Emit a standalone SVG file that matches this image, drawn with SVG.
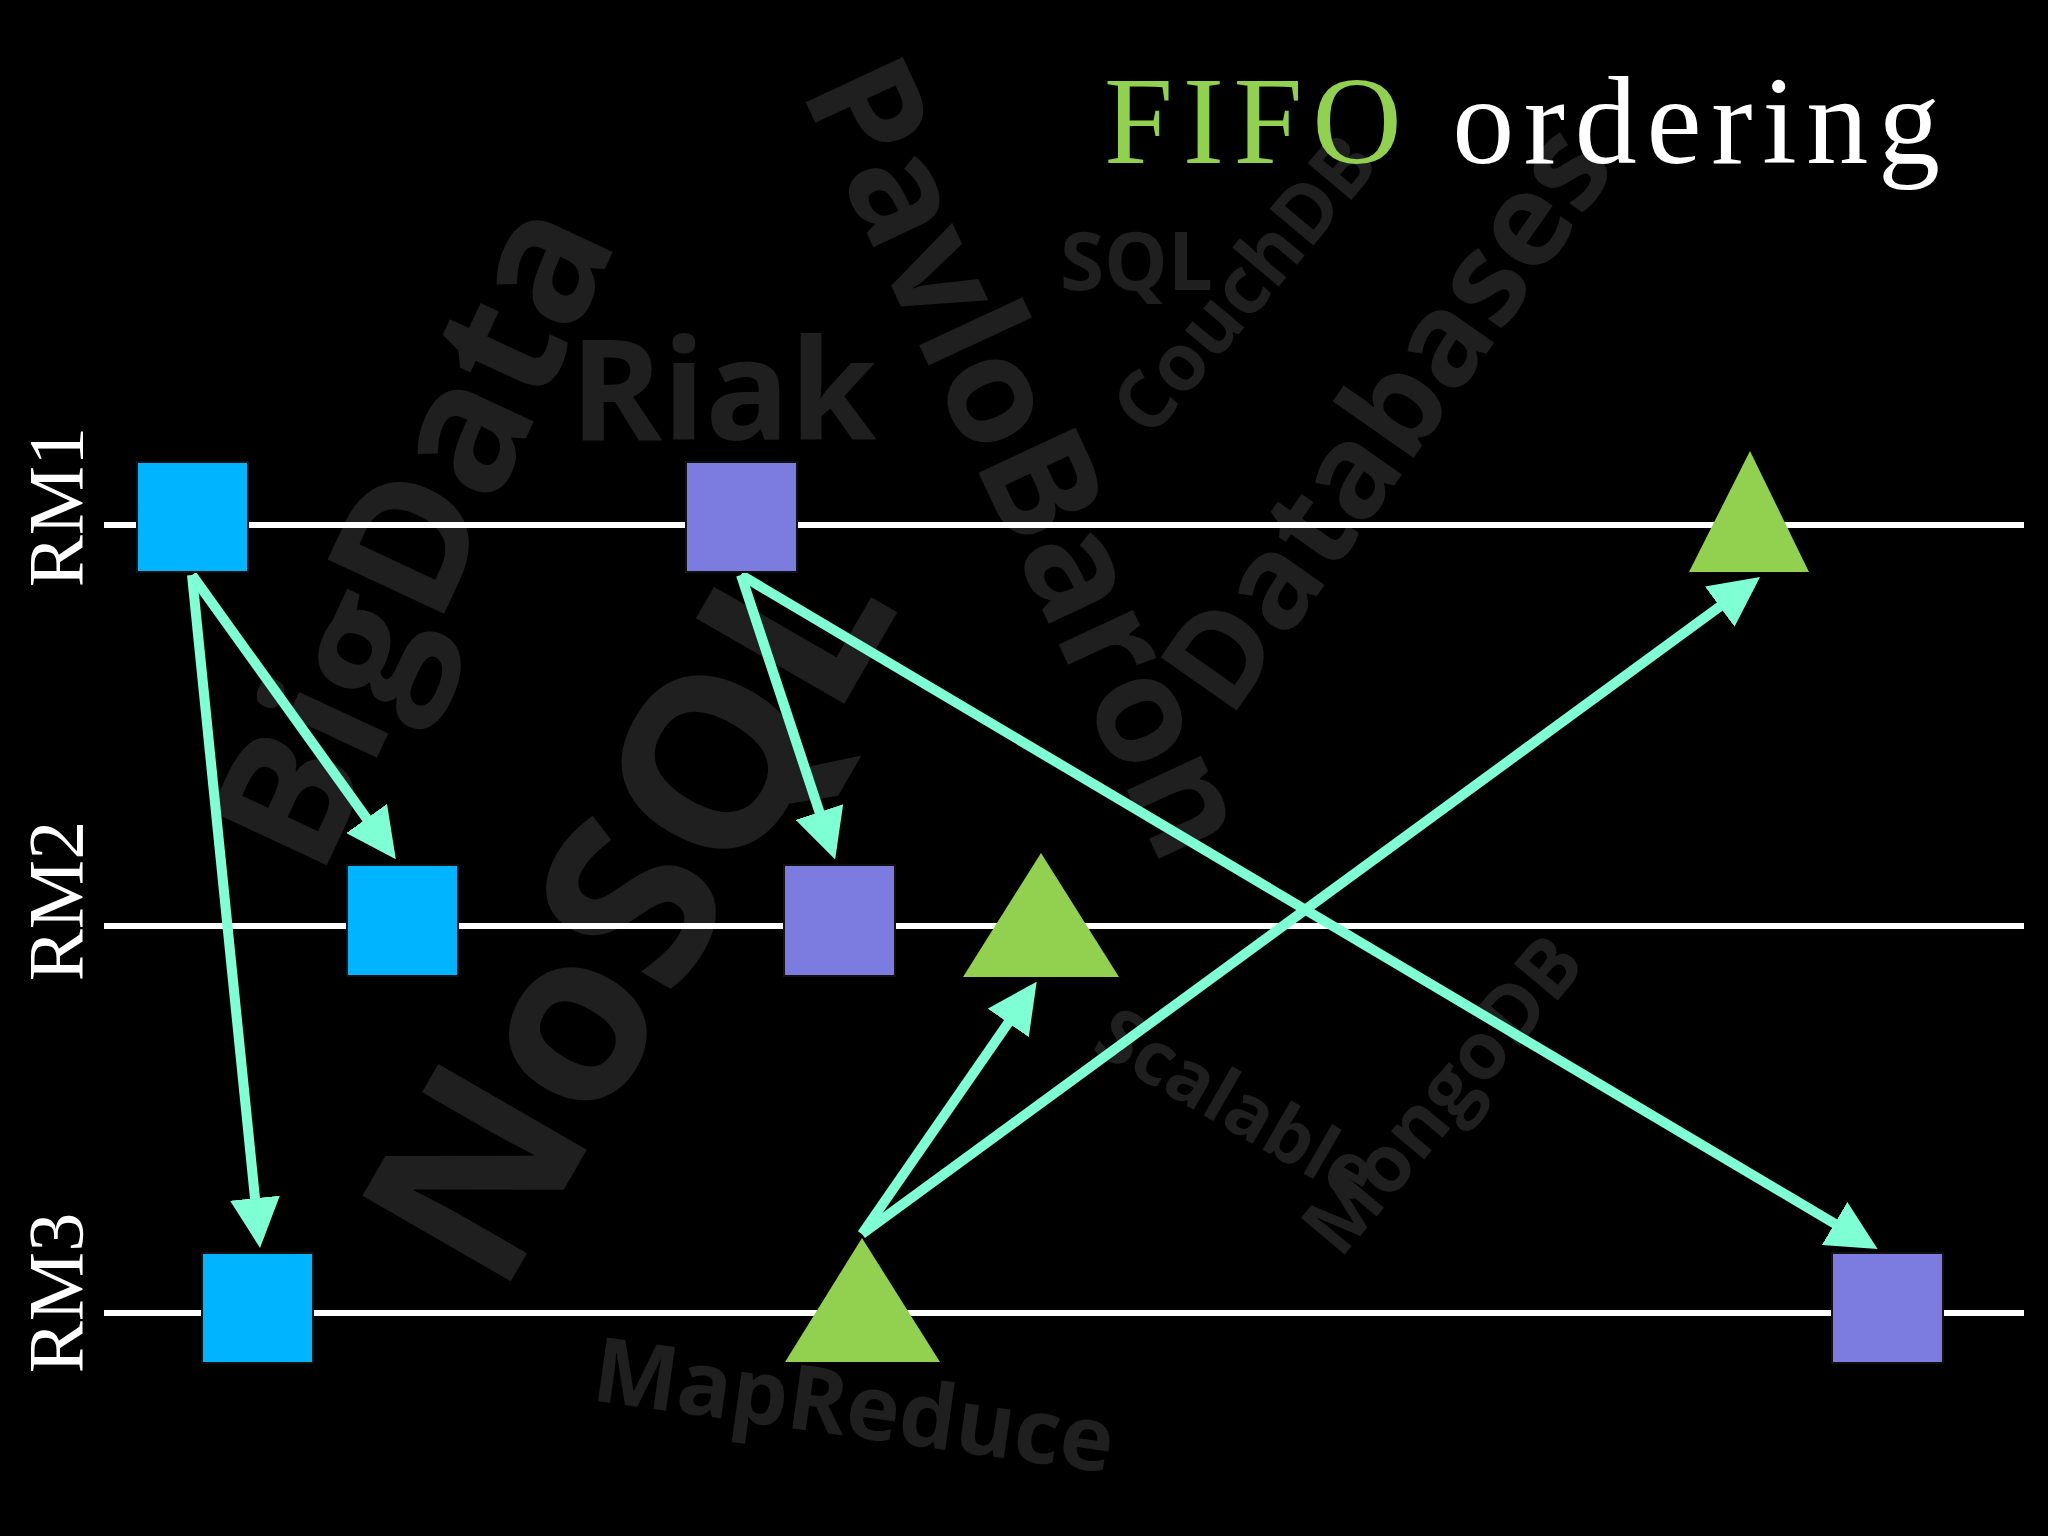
<svg xmlns="http://www.w3.org/2000/svg" width="2048" height="1536" viewBox="0 0 2048 1536">
<defs>
<style>
.bg{font-family:"Open Sans","DejaVu Sans",sans-serif;font-weight:bold;fill:#1f1f1f}
.lbl{font-family:"Liberation Serif","DejaVu Serif",serif;font-size:78px;fill:#fff}
.line{stroke:#fff;stroke-width:6}
.conn{stroke:#7FFFD4;stroke-width:10;fill:none;marker-end:url(#ah)}
.blue{fill:#00B4FF;stroke:#111;stroke-width:2}
.purple{fill:#7B7BE0;stroke:#111;stroke-width:2}
.tri{fill:#92D050}
</style>
<marker id="ah" markerWidth="5" markerHeight="5" refX="4" refY="2.5" orient="auto" markerUnits="strokeWidth">
<path d="M0,0 L5,2.5 L0,5 z" fill="#7FFFD4"/>
</marker>
</defs>
<rect width="2048" height="1536" fill="#000"/>
<g id="background">
<text class="bg" font-size="240" transform="translate(500,1300) rotate(-60)">NoSQL</text>
<text class="bg" font-size="180" transform="translate(320,880) rotate(-65)">BigData</text>
<text class="bg" font-size="150" transform="translate(800,90) rotate(65)">PavloBaron</text>
<text class="bg" font-size="130" transform="translate(1230,720) rotate(-55)">Databases</text>
<text class="bg" font-size="140" transform="translate(570,440)">Riak</text>
<text class="bg" font-size="80" transform="translate(1150,440) rotate(-50)">CouchDB</text>
<text class="bg" font-size="80" transform="translate(1340,1260) rotate(-50)">MongoDB</text>
<text class="bg" font-size="90" transform="translate(590,1400) rotate(8)">MapReduce</text>
<text class="bg" font-size="80" transform="translate(1060,290)">SQL</text>
<text class="bg" font-size="75" transform="translate(1090,1050) rotate(30)">Scalable</text>
</g>
<g id="timelines">
<line class="line" x1="104" y1="525" x2="2024" y2="525"/>
<line class="line" x1="104" y1="926" x2="2024" y2="926"/>
<line class="line" x1="104" y1="1313" x2="2024" y2="1313"/>
<text class="lbl" text-anchor="middle" transform="translate(82,507) rotate(-90)">RM1</text>
<text class="lbl" text-anchor="middle" transform="translate(82,901) rotate(-90)">RM2</text>
<text class="lbl" text-anchor="middle" transform="translate(82,1293) rotate(-90)">RM3</text>
</g>
<g id="title">
<text x="1104" y="163" font-family="Liberation Serif,DejaVu Serif,serif" font-size="124" textLength="836" lengthAdjust="spacing"><tspan fill="#92D050">FIFO</tspan><tspan fill="#fff"> ordering</tspan></text>
</g>
<g id="connectors">
<line class="conn" x1="192" y1="575" x2="390" y2="851"/>
<line class="conn" x1="192" y1="575" x2="259" y2="1238"/>
<line class="conn" x1="741" y1="575" x2="832" y2="850"/>
<line class="conn" x1="741" y1="575" x2="1869" y2="1244"/>
<line class="conn" x1="862" y1="1234" x2="1031" y2="990"/>
<line class="conn" x1="862" y1="1234" x2="1752" y2="583"/>
</g>
<g id="rm1-blue"><rect class="blue" x="137" y="462" width="111" height="110"/></g>
<g id="rm2-blue"><rect class="blue" x="347" y="865" width="111" height="111"/></g>
<g id="rm3-blue"><rect class="blue" x="202" y="1253" width="111" height="110"/></g>
<g id="rm1-purple"><rect class="purple" x="686" y="462" width="111" height="110"/></g>
<g id="rm2-purple"><rect class="purple" x="784" y="865" width="111" height="111"/></g>
<g id="rm3-purple"><rect class="purple" x="1832" y="1253" width="111" height="110"/></g>
<g id="rm1-tri"><polygon class="tri" points="1750,451 1809,572 1689,572"/></g>
<g id="rm2-tri"><polygon class="tri" points="1041,853 1119,977 963,977"/></g>
<g id="rm3-tri"><polygon class="tri" points="862,1238 940,1362 785,1362"/></g>
</svg>
